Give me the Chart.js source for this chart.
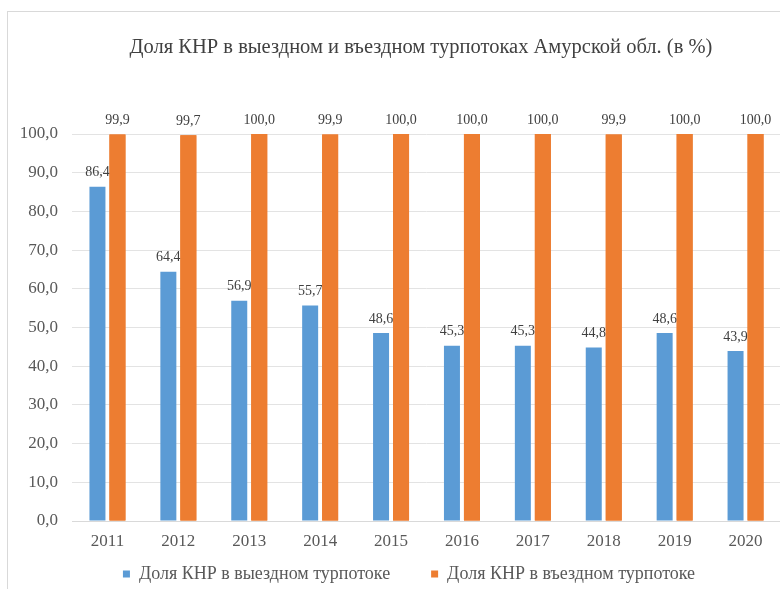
<!DOCTYPE html>
<html>
<head>
<meta charset="utf-8">
<script src="https://cdn.jsdelivr.net/npm/chart.js@4/dist/chart.umd.min.js"></script>
<style>
  html, body { margin: 0; padding: 0; background: #fff; overflow: hidden; width: 780px; height: 589px; }
  #frame { position: absolute; left: 7px; top: 11px; width: 900px; height: 700px; border-left: 1px solid #d9d9d9; border-top: 1px solid #d9d9d9; }
  #wrap { position: absolute; left: 8px; top: 12px; width: 826px; height: 577px; }
</style>
</head>
<body>
<div id="frame"></div>
<div id="wrap"><canvas id="c" width="826" height="577"></canvas></div>
<script>
const years = ['2011','2012','2013','2014','2015','2016','2017','2018','2019','2020'];
const outboundShare = [86.4, 64.4, 56.9, 55.7, 48.6, 45.3, 45.3, 44.8, 48.6, 43.9];
const inboundShare = [99.9, 99.7, 100.0, 99.9, 100.0, 100.0, 100.0, 99.9, 100.0, 100.0];
const seriesNames = ['Доля КНР в выездном турпотоке', 'Доля КНР в въездном турпотоке'];
const titleText = 'Доля КНР в выездном и въездном турпотоках Амурской обл. (в %)';

const SERIF = '"Liberation Serif", "Times New Roman", serif';
Chart.defaults.font.family = SERIF;
const fmt = v => v.toFixed(1).replace('.', ',');

function drawLabels(chart, di) {
  const ctx = chart.ctx;
  const ds = chart.data.datasets[di];
  const meta = chart.getDatasetMeta(di);
  ctx.save();
  ctx.font = '14px ' + SERIF;
  ctx.fillStyle = '#404040';
  ctx.textAlign = 'center';
  ctx.textBaseline = 'middle';
  meta.data.forEach((bar, i) => {
    ctx.fillText(fmt(ds.data[i]), bar.x, bar.y - 14);
  });
  ctx.restore();
}

const LEGEND_GAP = 41;

const valueLabels = {
  id: 'valueLabels',
  afterDatasetsDraw(chart) {
    drawLabels(chart, 0);
    // orange bars sit over the blue labels, as in the reference
    chart.getDatasetMeta(1).data.forEach(el => el.draw(chart.ctx, chart.chartArea));
    drawLabels(chart, 1);
  },
  afterLayout(chart) {
    if (chart.legend) {
      chart.legend.left += 14.5; chart.legend.right += 14.5;
      chart.legend.top += 5 - (LEGEND_GAP - 3);
      chart.legend.bottom = chart.height;
      chart.legend.height = chart.legend.bottom - chart.legend.top;
    }
    if (chart.titleBlock) { chart.titleBlock.left += 26.5; chart.titleBlock.right += 26.5; }
  }
};

new Chart(document.getElementById('c'), {
  type: 'bar',
  data: {
    labels: years,
    datasets: [
      { label: seriesNames[0], data: outboundShare, backgroundColor: '#5B9BD5', categoryPercentage: 0.564, barPercentage: 0.8 },
      { label: seriesNames[1], data: inboundShare, backgroundColor: '#ED7D31', categoryPercentage: 0.564, barPercentage: 0.8 }
    ]
  },
  options: {
    responsive: false,
    animation: false,
    layout: { padding: { left: 0, right: 53, top: 0, bottom: 0 } },
    plugins: {
      title: {
        display: true,
        text: titleText,
        color: '#404040',
        font: { family: SERIF, size: 20.5, weight: 'normal' },
        padding: { top: 23.7, bottom: 73.7 }
      },
      legend: {
        position: 'bottom',
        maxHeight: 32,
        labels: {
          color: '#595959',
          font: { family: SERIF, size: 18, weight: 'normal' },
          boxWidth: 7,
          boxHeight: 7,
          padding: LEGEND_GAP
        }
      },
      tooltip: { enabled: false }
    },
    scales: {
      x: {
        afterFit(scale) { scale.height = 36; },
        grid: { display: false },
        border: { display: true, color: '#d9d9d9' },
        ticks: { color: '#595959', font: { family: SERIF, size: 17 }, padding: 2.8 },
      },
      y: {
        min: 0,
        max: 100,
        afterFit(scale) { scale.width = 64; },
        grid: { color: '#e3e3e3', drawTicks: false },
        border: { display: false },
        ticks: {
          stepSize: 10,
          color: '#595959',
          padding: 14,
          font: { family: SERIF, size: 17 },
          callback: v => fmt(v)
        }
      }
    }
  },
  plugins: [valueLabels]
});
</script>
</body>
</html>
